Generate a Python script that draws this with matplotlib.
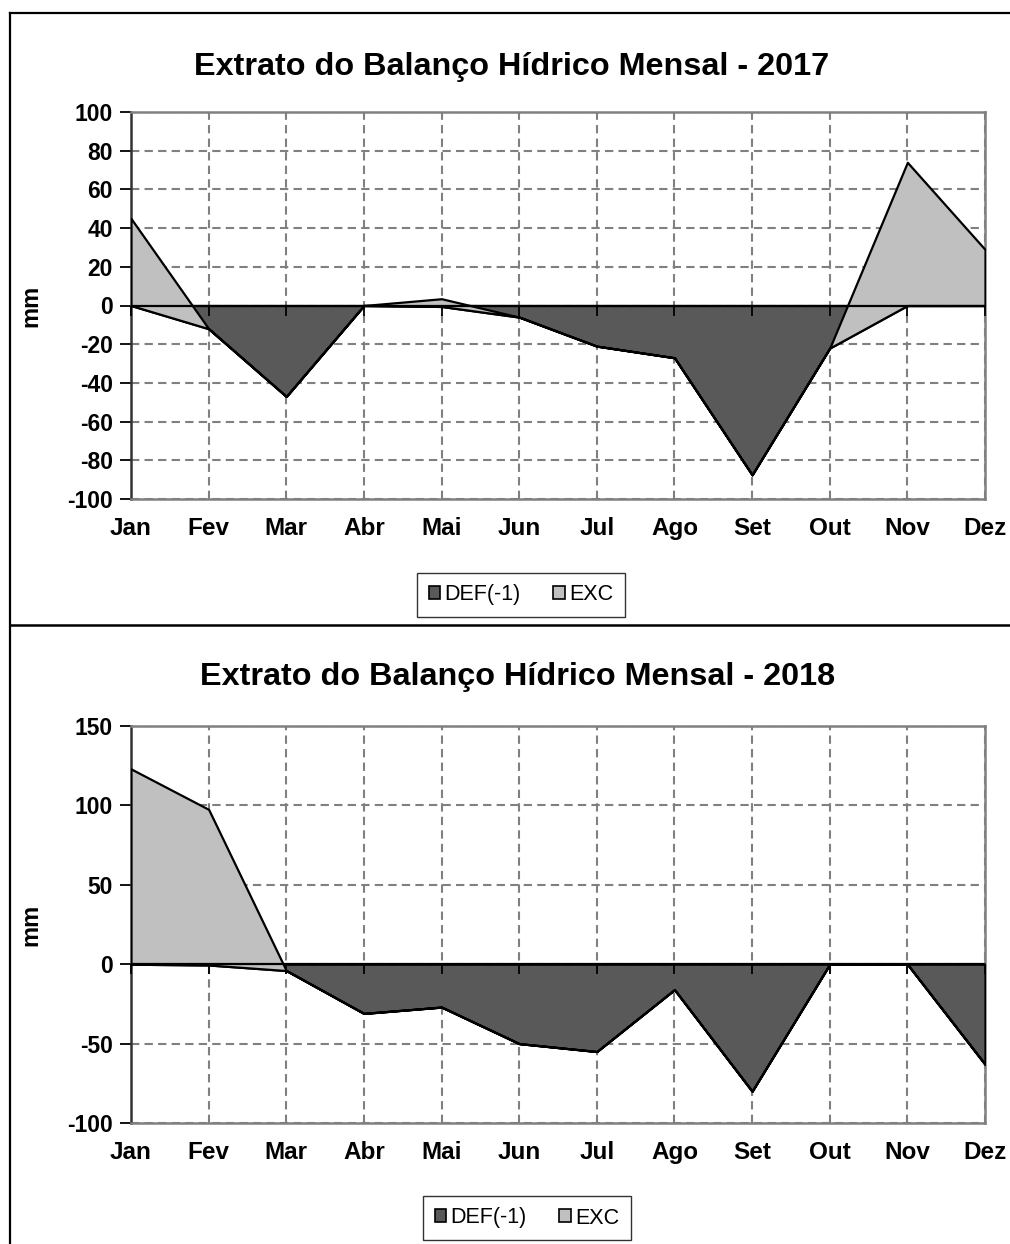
import matplotlib
matplotlib.use("Agg")
import matplotlib.pyplot as plt
from matplotlib.patches import Patch
from matplotlib.lines import Line2D
import numpy as np

plt.rcParams['font.family'] = ['Liberation Sans', 'DejaVu Sans']

months = ["Jan", "Fev", "Mar", "Abr", "Mai", "Jun", "Jul", "Ago", "Set", "Out", "Nov", "Dez"]

def_2017 = [0, -12, -47, 0, -0.5, -6, -21, -27, -87.5, -22, 0, 0]
exc_2017 = [45, 0, 0, 0, 4, 0, 0, 0, 0, 0, 74, 29]
def_2018 = [0, -0.5, -4, -31, -27, -50, -55, -16, -80, 0, 0, -63]
exc_2018 = [123, 98, 0, 0, 0, 0, 0, 0, 0, 0, 0, 0]

titles = ["Extrato do Balanço Hídrico Mensal - 2017", "Extrato do Balanço Hídrico Mensal - 2018"]
yticks_2017 = list(range(-100, 101, 20))
yticks_2018 = list(range(-100, 151, 50))
legend_labels = ["DEF(-1)", "EXC"]

DEF_COLOR = "#595959"
EXC_COLOR = "#c0c0c0"
GRID_COLOR = "#808080"

W, H = 1010, 1244
fig = plt.figure(figsize=(W / 100, H / 100), dpi=100)

def fx(px):
    return px / W

def fy(py):
    return 1 - py / H

panels = [
    dict(defv=def_2017, excv=exc_2017, title=titles[0], yt=yticks_2017,
         top=112, bottom=499, title_y=67, title_x=512, leg_y=595, leg_x=521),
    dict(defv=def_2018, excv=exc_2018, title=titles[1], yt=yticks_2018,
         top=726, bottom=1123, title_y=677, title_x=518, leg_y=1218, leg_x=527),
]

left_px, right_px = 131, 985
x = np.arange(len(months))

for p in panels:
    ax = fig.add_axes([fx(left_px), fy(p["bottom"]), fx(right_px - left_px),
                       (p["bottom"] - p["top"]) / H])
    ax.stackplot(x, p["defv"], p["excv"], colors=[DEF_COLOR, EXC_COLOR],
                 edgecolor="black", linewidth=1.6, zorder=3)
    ax.axhline(0, color="black", lw=1.6, zorder=4)
    ax.plot(x, np.zeros(len(x)), ls="none", marker=3, ms=7, mew=1.3,
            color="black", zorder=4, clip_on=False)
    ax.set_xlim(0, len(months) - 1)
    ax.set_ylim(min(p["yt"]), max(p["yt"]))
    ax.set_yticks(p["yt"])
    ax.set_xticks(x)
    ax.set_xticklabels(months, fontsize=17.5, fontweight="bold")
    ax.set_yticklabels([str(v) for v in p["yt"]], fontsize=16.5, fontweight="bold")
    ax.tick_params(axis="x", length=0, pad=13)
    ax.tick_params(axis="y", length=8, width=1.3, pad=5, color="black")
    ax.grid(True, color=GRID_COLOR, ls=(0, (4, 2.5)), lw=1.5, zorder=1)
    for s in ["top", "right", "bottom"]:
        ax.spines[s].set_color(GRID_COLOR)
        ax.spines[s].set_linewidth(1.8)
    ax.spines["left"].set_color("#333333")
    ax.spines["left"].set_linewidth(1.8)
    ax.set_ylabel("mm", fontsize=17, fontweight="bold")
    ax.yaxis.set_label_coords(-(131 - 42) / (right_px - left_px), 0.5)
    fig.text(fx(p["title_x"]), fy(p["title_y"]), p["title"], ha="center", va="center",
             fontsize=23.3, fontweight="bold")
    handles = [Patch(facecolor=DEF_COLOR, edgecolor="black", lw=1.2),
               Patch(facecolor=EXC_COLOR, edgecolor="black", lw=1.2)]
    leg = fig.legend(handles, legend_labels, loc="center",
                     bbox_to_anchor=(fx(p["leg_x"]), fy(p["leg_y"])), ncol=2,
                     fontsize=15.5, frameon=True, fancybox=False, handlelength=0.55,
                     handleheight=0.55, handletextpad=0.2, columnspacing=1.5,
                     borderpad=0.55, edgecolor="black")
    leg.get_frame().set_linewidth(1.0)

# outer borders
fig.add_artist(Line2D([fx(10), fx(10)], [fy(13), 0], color="black", lw=1.6))
fig.add_artist(Line2D([fx(10), 1], [fy(13), fy(13)], color="black", lw=1.6))
fig.add_artist(Line2D([fx(10), 1], [fy(625), fy(625)], color="black", lw=1.8))

fig.savefig("out.png", dpi=100, facecolor="white")
